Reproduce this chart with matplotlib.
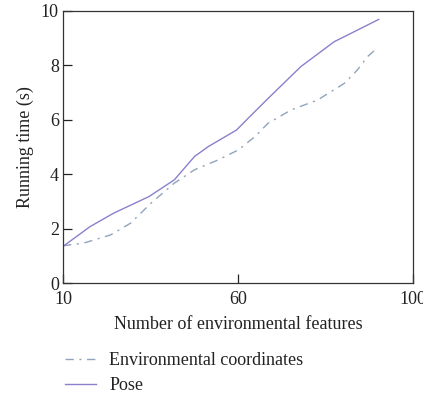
import numpy as np
import matplotlib
matplotlib.use("Agg")
import matplotlib.pyplot as plt
from matplotlib.lines import Line2D

plt.rcParams['font.family'] = ['Liberation Serif', 'DejaVu Serif']

# Data
pose_x = [10, 17.8, 24.5, 34.6, 41.8, 47.6, 51.5, 59.6, 62.7, 66.9, 74.4, 82.0, 92.2]
pose_y = [1.35, 2.08, 2.57, 3.18, 3.79, 4.65, 5.01, 5.62, 6.11, 6.78, 7.95, 8.86, 9.68]

env_x = [10, 15.9, 23.6, 29.3, 35.1, 41.8, 47.6, 54.3, 60.1, 63.9, 66.9, 72.2, 78.2, 84.3, 87.3, 89.6, 91.8]
env_y = [1.37, 1.47, 1.77, 2.2, 2.93, 3.67, 4.16, 4.52, 4.89, 5.38, 5.87, 6.36, 6.72, 7.33, 7.82, 8.31, 8.62]

x_ticks = [10, 60, 100]
y_ticks = [0, 2, 4, 6, 8, 10]
labels = ["Environmental coordinates", "Pose"]

# piecewise axis: 10 -> 0, 60 -> 0.5, 100 -> 1
_src = np.array([10.0, 60.0, 100.0])
_dst = np.array([0.0, 0.5, 1.0])

def fwd(v):
    return np.interp(v, _src, _dst)

def inv(v):
    return np.interp(v, _dst, _src)

fig = plt.figure(figsize=(4.23, 3.96), dpi=100)
ax = fig.add_axes([0.149, 0.285, 0.827, 0.688])
ax.set_xscale('function', functions=(fwd, inv))

FS = 13
c_env = '#8fa4ba'
c_pose = '#8a80cc'
dash = (0, (6, 4, 1.5, 4))
ax.plot(env_x, env_y, color=c_env, lw=1.0, linestyle=dash)
ax.plot(pose_x, pose_y, color=c_pose, lw=1.0)

ax.set_xlim(10, 100)
ax.set_ylim(0, 10)
ax.set_xticks(x_ticks)
ax.set_xticklabels([str(t) for t in x_ticks])
ax.set_yticks(y_ticks)
ax.tick_params(direction='in', length=6.5, width=0.9, labelsize=FS, colors='#222222', pad=3)
ax.tick_params(axis='x', pad=5.5)
for s in ax.spines.values():
    s.set_linewidth(0.9)
    s.set_color('#333333')

ax.set_xlabel("Number of environmental features", fontsize=FS, color='#222222', labelpad=6)
ax.set_ylabel("Running time (s)", fontsize=FS, color='#222222', labelpad=5)

handles = [Line2D([], [], color=c_env, lw=1.0, linestyle=dash),
           Line2D([], [], color=c_pose, lw=1.0)]
fig.legend(handles, labels, loc='upper left', bbox_to_anchor=(0.154, 0.110),
           frameon=False, fontsize=FS, handlelength=1.7, labelspacing=0.43,
           borderpad=0, borderaxespad=0, handletextpad=0.75, labelcolor='#222222')

fig.savefig("out.png", dpi=100)
